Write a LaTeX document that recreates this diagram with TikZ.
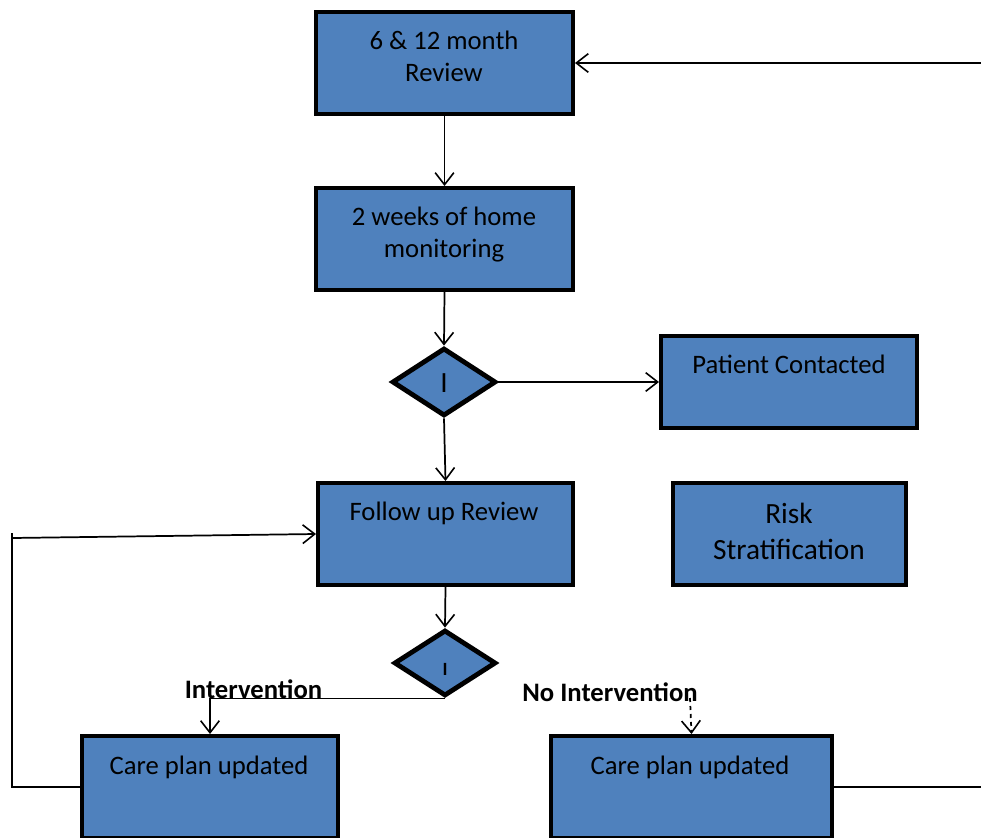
\documentclass[tikz,border=0pt]{standalone}
\usepackage{fontspec}
\setmainfont{Carlito}
\usetikzlibrary{shapes.geometric,arrows.meta}
\definecolor{boxblue}{HTML}{4F81BD}
\begin{document}
\begin{tikzpicture}[x=0.75pt,y=-0.75pt,
  box/.style={draw=black,fill=boxblue,line width=3pt,inner sep=0pt,rectangle},
  dia/.style={draw=black,fill=boxblue,line width=3.6pt,inner sep=0pt,diamond},
  txt/.style={font=\fontsize{20pt}{24pt}\selectfont,anchor=base,inner sep=0pt},
  lab/.style={font=\fontsize{20pt}{24pt}\selectfont\bfseries,anchor=base,inner sep=0pt},
  conn/.style={line width=1.3pt,-{Straight Barb[length=9pt,width=14pt,line width=1.2pt]}},
  plain/.style={line width=1.3pt}]
\useasboundingbox (0,0) rectangle (981,838);
% boxes
\node[box,minimum width={257*0.75pt},minimum height={102*0.75pt}] (b1) at (444.5,63) {};
\node[box,minimum width={257*0.75pt},minimum height={102*0.75pt}] (b2) at (444.5,239) {};
\node[box,minimum width={256*0.75pt},minimum height={92*0.75pt}] (pc) at (789,382) {};
\node[box,minimum width={255*0.75pt},minimum height={102*0.75pt}] (fu) at (445.5,534) {};
\node[box,minimum width={233*0.75pt},minimum height={102*0.75pt}] (rs) at (789.5,534) {};
\node[box,minimum width={256*0.75pt},minimum height={102*0.75pt}] (cl) at (210,787) {};
\node[box,minimum width={281*0.75pt},minimum height={102*0.75pt}] (cr) at (691.5,787) {};
\node[dia,minimum width={104*0.75pt},minimum height={68*0.75pt}] (d1) at (444,382) {};
\node[dia,minimum width={102*0.75pt},minimum height={66*0.75pt}] (d2) at (445,663) {};
% texts
\node[txt] (t1a) at (444,50) {6 \& 12 month};
\node[txt] (t1b) at (444,82) {Review};
\node[txt] (t2a) at (444,225) {2 weeks of home};
\node[txt] (t2b) at (444,257) {monitoring};
\node[txt] (tpc) at (789,373) {Patient Contacted};
\node[txt] (tfu) at (444,520) {Follow up Review};
\node[txt,font=\fontsize{22pt}{26pt}\selectfont] (trsa) at (789,523) {Risk};
\node[txt,font=\fontsize{22pt}{26pt}\selectfont] (trsb) at (789,559) {Stratification};
\node[txt] (tcl) at (209,774) {Care plan updated};
\node[txt] (tcr) at (690,774) {Care plan updated};
\node[txt,font=\fontsize{22pt}{26pt}\selectfont] (td1) at (444,392) {I};
\node[txt,font=\fontsize{14pt}{16pt}\selectfont\bfseries] (td2) at (445,675) {I};
\node[lab] (lint) at (253.5,698) {Intervention};
\node[lab] (lnoint) at (610,701) {No Intervention};
% connectors
\coordinate (rtop) at (981,63);
\coordinate (rbot) at (981,787);
\coordinate (lcorn) at (12,538);
\coordinate (ltick) at (12,533);
\coordinate (lbot) at (12,787);
\coordinate (nstart) at (690,698);
\draw[conn] (rtop) -- (b1.east);
\draw[conn] (b1.south) -- (b2.north);
\draw[conn] (b2.south) -- (d1.north);
\draw[conn] (d1.east) -- (pc.west);
\draw[conn] (d1.south) -- (fu.north);
\draw[conn] (fu.south) -- (d2.north);
\coordinate (icorn) at (d2.south -| cl.north);
\draw[plain] (d2.south) -- (icorn);
\draw[conn] (icorn) -- (cl.north);
\draw[conn,dashed] (nstart) -- (cr.north);
\draw[plain] (cl.west) -- (lbot) -- (ltick);
\draw[conn] (lcorn) -- (fu.west);
\draw[plain] (cr.east) -- (rbot);
\end{tikzpicture}
\end{document}
